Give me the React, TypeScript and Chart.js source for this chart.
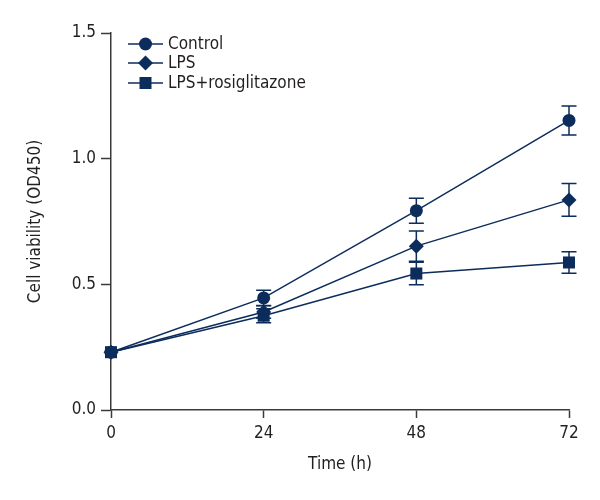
import React, { useEffect, useRef } from "react";
import { Chart, registerables } from "chart.js";

Chart.register(...registerables);

const timePoints = [0, 24, 48, 72];
const xTicks = [0, 24, 48, 72];
const yTicks = [0.0, 0.5, 1.0, 1.5];
const seriesLabels = ["Control", "LPS", "LPS+rosiglitazone"];
const controlValues = [0.23, 0.446, 0.793, 1.152];
const controlErrors = [0, 0.03, 0.05, 0.058];
const lpsValues = [0.23, 0.39, 0.652, 0.836];
const lpsErrors = [0, 0.025, 0.06, 0.065];
const rosiValues = [0.23, 0.375, 0.543, 0.587];
const rosiErrors = [0, 0.028, 0.045, 0.043];

const NAVY = "#0c2c5c";
const AXIS = "#3a3a3a";
const TEXT = "#231f20";
const FONT = "'Liberation Sans Narrow', 'DejaVu Sans Condensed', sans-serif";
const FS = 17;

const errorsBySeries = [controlErrors, lpsErrors, rosiErrors];
const pointStyles = ["circle", "rectRot", "rect"];
const pointRadii = [6.5, 7.5, 8.5];

const errorBarPlugin = {
  id: "errorBars",
  afterDatasetsDraw(chart: any) {
    const ctx = chart.ctx;
    const xs = chart.scales.x;
    const ys = chart.scales.y;
    ctx.save();
    ctx.strokeStyle = NAVY;
    ctx.lineWidth = 1.5;
    chart.data.datasets.forEach((ds: any, i: number) => {
      const errs = errorsBySeries[i];
      ds.data.forEach((p: any, j: number) => {
        const e = errs[j];
        if (!e) return;
        const px = xs.getPixelForValue(p.x);
        const top = ys.getPixelForValue(p.y + e);
        const bot = ys.getPixelForValue(p.y - e);
        const cap = 7.5;
        ctx.beginPath();
        ctx.moveTo(px, top);
        ctx.lineTo(px, bot);
        ctx.moveTo(px - cap, top);
        ctx.lineTo(px + cap, top);
        ctx.moveTo(px - cap, bot);
        ctx.lineTo(px + cap, bot);
        ctx.stroke();
      });
    });
    ctx.restore();
  },
};

const legendPlugin = {
  id: "customLegend",
  afterDraw(chart: any) {
    const ctx = chart.ctx;
    const area = chart.chartArea;
    const lineStart = area.left + 17;
    const lineEnd = area.left + 52;
    const markerX = (lineStart + lineEnd) / 2;
    const textX = area.left + 57;
    const rowY = [area.top + 11, area.top + 30, area.top + 50];
    ctx.save();
    chart.data.datasets.forEach((ds: any, i: number) => {
      const y = rowY[i];
      ctx.strokeStyle = NAVY;
      ctx.lineWidth = 1.5;
      ctx.beginPath();
      ctx.moveTo(lineStart, y);
      ctx.lineTo(lineEnd, y);
      ctx.stroke();
      ctx.fillStyle = NAVY;
      ctx.beginPath();
      if (pointStyles[i] === "circle") {
        ctx.arc(markerX, y, 6.5, 0, Math.PI * 2);
      } else if (pointStyles[i] === "rectRot") {
        const r = 7.5;
        ctx.moveTo(markerX, y - r);
        ctx.lineTo(markerX + r, y);
        ctx.lineTo(markerX, y + r);
        ctx.lineTo(markerX - r, y);
        ctx.closePath();
      } else {
        const s = 6;
        ctx.rect(markerX - s, y - s, 2 * s, 2 * s);
      }
      ctx.fill();
      ctx.fillStyle = TEXT;
      ctx.font = `${FS}px ${FONT}`;
      ctx.textBaseline = "middle";
      ctx.textAlign = "left";
      ctx.fillText(ds.label, textX, y + 1);
    });
    ctx.restore();
  },
};

export default function App() {
  const canvasRef = useRef<HTMLCanvasElement | null>(null);

  useEffect(() => {
    document.body.style.margin = "0";
    const canvas = canvasRef.current;
    if (!canvas) return;
    const values = [controlValues, lpsValues, rosiValues];
    const chart = new Chart(canvas, {
      type: "line",
      data: {
        datasets: seriesLabels.map((label, i) => ({
          label,
          data: timePoints.map((t, j) => ({ x: t, y: values[i][j] })),
          borderColor: NAVY,
          backgroundColor: NAVY,
          borderWidth: 1.5,
          pointStyle: pointStyles[i] as any,
          pointRadius: pointRadii[i],
          pointBorderWidth: 0,
          pointBackgroundColor: NAVY,
          tension: 0,
          fill: false,
          clip: false as any,
        })),
      },
      options: {
        responsive: false,
        animation: false,
        layout: { padding: { top: 33, right: 31, left: 0, bottom: 0 } },
        plugins: {
          legend: { display: false },
          tooltip: { enabled: false },
        },
        scales: {
          x: {
            type: "linear",
            min: 0,
            max: 72,
            afterBuildTicks: (s: any) => {
              s.ticks = xTicks.map((v) => ({ value: v }));
            },
            afterFit: (s: any) => {
              s.height = 90;
            },
            grid: {
              drawOnChartArea: false,
              drawTicks: true,
              tickLength: 8,
              tickColor: AXIS,
              tickWidth: 1.5,
            },
            border: { color: AXIS, width: 1.5 },
            ticks: {
              color: TEXT,
              font: { family: FONT, size: FS },
              padding: 5,
              maxRotation: 0,
            },
            title: {
              display: true,
              text: "Time (h)",
              color: TEXT,
              font: { family: FONT, size: FS },
              padding: { top: 0, bottom: 25 },
            },
          },
          y: {
            type: "linear",
            min: 0,
            max: 1.5,
            afterBuildTicks: (s: any) => {
              s.ticks = yTicks.map((v) => ({ value: v }));
            },
            afterFit: (s: any) => {
              s.width = 111;
            },
            grid: {
              drawOnChartArea: false,
              drawTicks: true,
              tickLength: 10,
              tickColor: AXIS,
              tickWidth: 1.5,
            },
            border: { color: AXIS, width: 1.5 },
            ticks: {
              color: TEXT,
              font: { family: FONT, size: FS },
              padding: 5,
              callback: (v: any) => Number(v).toFixed(1),
            },
            title: {
              display: true,
              text: "Cell viability (OD450)",
              color: TEXT,
              font: { family: FONT, size: FS },
              padding: { top: 25, bottom: 0 },
            },
          },
        },
      },
      plugins: [errorBarPlugin, legendPlugin],
    });
    return () => chart.destroy();
  }, []);

  return (
    <div style={{ width: 600, height: 500, background: "#fff" }}>
      <canvas ref={canvasRef} width={600} height={500} />
    </div>
  );
}
